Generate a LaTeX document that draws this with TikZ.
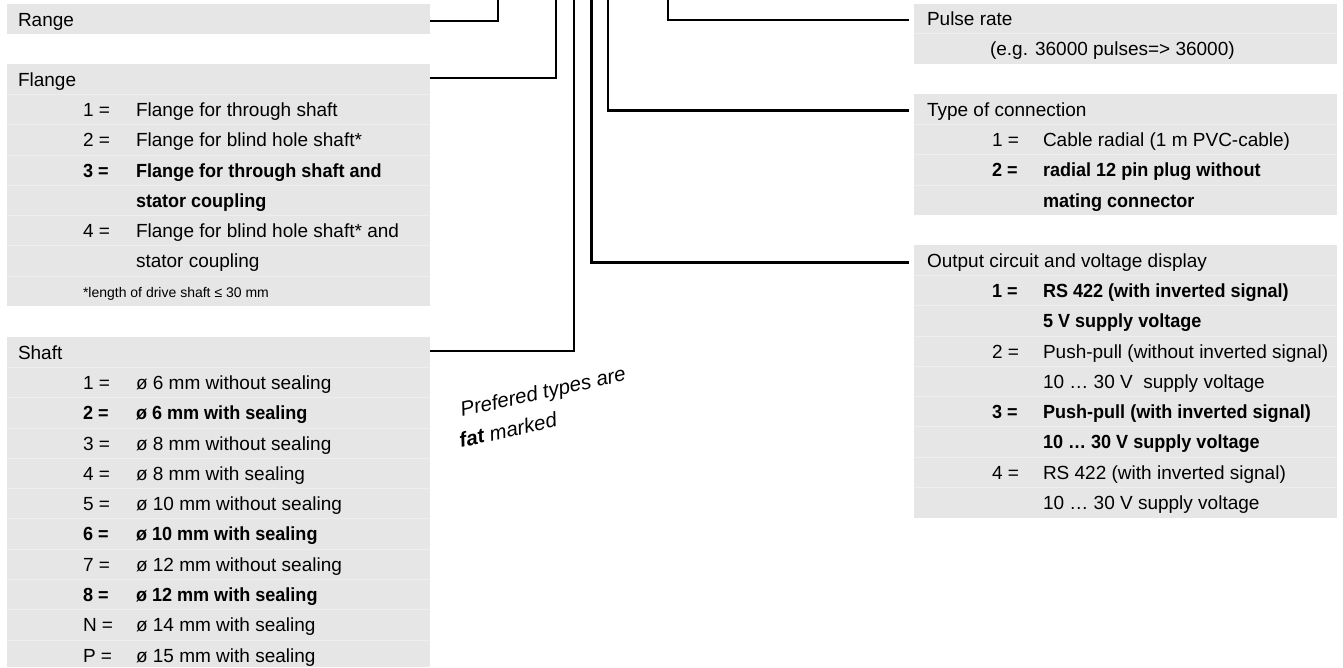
\documentclass[tikz,border=0pt]{standalone}
\usepackage{fontspec}
\setmainfont{Liberation Sans}[BoldFeatures={FakeStretch=0.95}]
\definecolor{boxgray}{HTML}{E6E6E6}
\definecolor{sepgray}{HTML}{EEEEEE}
\begin{document}
\begin{tikzpicture}[x=1pt,y=-1pt,
  conn/.style={line width=2.4pt},
  box/.style={fill=boxgray, draw=none, inner sep=0pt, outer sep=0pt, anchor=north west, minimum width=423pt},
  txt/.style={anchor=base west, inner sep=0pt, outer sep=0pt, font=\fontsize{19}{22}\selectfont},
  btxt/.style={txt, font=\fontsize{19}{22}\selectfont\bfseries},
  note/.style={txt, font=\fontsize{14}{16}\selectfont},
  sep/.style={sepgray, line width=0.8pt},
  slant/.style={anchor=base west, inner sep=0pt, rotate=12.6, font=\fontsize{20.5}{24}\selectfont\itshape}]
\useasboundingbox (0,0) rectangle (1343,667);

% boxes
\node[box, minimum height=30.3pt] (range) at (7,4) {};
\node[box, minimum height=242.4pt] (flange) at (7,64) {};
\node[box, minimum height=330pt] (shaft) at (7,337) {};
\node[box, minimum height=60.6pt] (pulse) at (914,3.5) {};
\node[box, minimum height=121.2pt] (tconn) at (914,94) {};
\node[box, minimum height=272.7pt] (outc) at (914,245) {};

% separators
\foreach \k in {1,...,7} \draw[sep] (7,{64+30.3*\k}) -- (430,{64+30.3*\k});
\foreach \k in {1,...,10} \draw[sep] (7,{337+30.3*\k}) -- (430,{337+30.3*\k});
\draw[sep] (914,33.8) -- (1337,33.8);
\foreach \k in {1,...,3} \draw[sep] (914,{94+30.3*\k}) -- (1337,{94+30.3*\k});
\foreach \k in {1,...,8} \draw[sep] (914,{245+30.3*\k}) -- (1337,{245+30.3*\k});

% Range
\node[txt] (rangeh) at (18,26.2) {Range};

% Flange
\node[txt] (flh) at (18,86.15) {Flange};
\node[txt] (f1n) at (83,116.45) {1 =};
\node[txt] (f1t) at (136,116.45) {Flange for through shaft};
\node[txt] (f2n) at (83,146.75) {2 =};
\node[txt] (f2t) at (136,146.75) {Flange for blind hole shaft*};
\node[btxt] (f3n) at (83,177.05) {3 =};
\node[btxt] (f3t) at (136,177.05) {Flange for through shaft and};
\node[btxt] (f3u) at (136,207.35) {stator coupling};
\node[txt] (f4n) at (83,237.65) {4 =};
\node[txt] (f4t) at (136,237.65) {Flange for blind hole shaft* and};
\node[txt] (f4u) at (136,267.95) {stator coupling};
\node[note] (fnote) at (83,297.5) {*length of drive shaft ≤ 30 mm};

% Shaft
\node[txt] (shh) at (18,359.15) {Shaft};
\node[txt] (s1n) at (83,389.45) {1 =};
\node[txt] (s1t) at (136,389.45) {ø 6 mm without sealing};
\node[btxt] (s2n) at (83,419.75) {2 =};
\node[btxt] (s2t) at (136,419.75) {ø 6 mm with sealing};
\node[txt] (s3n) at (83,450.05) {3 =};
\node[txt] (s3t) at (136,450.05) {ø 8 mm without sealing};
\node[txt] (s4n) at (83,480.35) {4 =};
\node[txt] (s4t) at (136,480.35) {ø 8 mm with sealing};
\node[txt] (s5n) at (83,510.65) {5 =};
\node[txt] (s5t) at (136,510.65) {ø 10 mm without sealing};
\node[btxt] (s6n) at (83,540.95) {6 =};
\node[btxt] (s6t) at (136,540.95) {ø 10 mm with sealing};
\node[txt] (s7n) at (83,571.25) {7 =};
\node[txt] (s7t) at (136,571.25) {ø 12 mm without sealing};
\node[btxt] (s8n) at (83,601.55) {8 =};
\node[btxt] (s8t) at (136,601.55) {ø 12 mm with sealing};
\node[txt] (sNn) at (83,631.85) {N =};
\node[txt] (sNt) at (136,631.85) {ø 14 mm with sealing};
\node[txt] (sPn) at (83,662.15) {P =};
\node[txt] (sPt) at (136,662.15) {ø 15 mm with sealing};

% Pulse rate
\node[txt] (ph) at (927,25.65) {Pulse rate};
\node[txt] (pt) at (990,55.95) {(e.g. 36000 pulses=> 36000)};

% Type of connection
\node[txt] (th) at (927,116.15) {Type of connection};
\node[txt] (t1n) at (992,146.45) {1 =};
\node[txt] (t1t) at (1043,146.45) {Cable radial (1 m PVC-cable)};
\node[btxt] (t2n) at (992,176.75) {2 =};
\node[btxt] (t2t) at (1043,176.75) {radial 12 pin plug without};
\node[btxt] (t2u) at (1043,207.05) {mating connector};

% Output circuit
\node[txt] (oh) at (927,267.15) {Output circuit and voltage display};
\node[btxt] (o1n) at (992,297.45) {1 =};
\node[btxt] (o1t) at (1043,297.45) {RS 422 (with inverted signal)};
\node[btxt] (o1u) at (1043,327.75) {5 V supply voltage};
\node[txt] (o2n) at (992,358.05) {2 =};
\node[txt] (o2t) at (1043,358.05) {Push-pull (without inverted signal)};
\node[txt] (o2u) at (1043,388.35) {10 … 30 V\ \ supply voltage};
\node[btxt] (o3n) at (992,418.65) {3 =};
\node[btxt] (o3t) at (1043,418.65) {Push-pull (with inverted signal)};
\node[btxt] (o3u) at (1043,448.95) {10 … 30 V supply voltage};
\node[txt] (o4n) at (992,479.25) {4 =};
\node[txt] (o4t) at (1043,479.25) {RS 422 (with inverted signal)};
\node[txt] (o4u) at (1043,509.55) {10 … 30 V supply voltage};

% rotated remark
\node[slant] (pref) at (462,417) {Prefered types are};
\node[slant] (fatm) at (461,448) {\textbf{fat} marked};

% connectors
\coordinate (top1) at (498,-3);
\coordinate (top2) at (556,-3);
\coordinate (top3) at (574,-3);
\coordinate (top4) at (591.5,-3);
\coordinate (top5) at (608,-3);
\coordinate (top6) at (668,-3);
\draw[conn] ([yshift=-17pt]range.north east) -| (top1);
\draw[conn] ([yshift=-14pt]flange.north east) -| (top2);
\draw[conn] ([yshift=-14pt]shaft.north east) -| (top3);
\draw[conn] (top4) |- ([xshift=-5pt,yshift=-17.5pt]outc.north west);
\draw[conn] (top5) |- ([xshift=-5pt,yshift=-16.5pt]tconn.north west);
\draw[conn] (top6) |- ([xshift=-5pt,yshift=-16.5pt]pulse.north west);
\end{tikzpicture}
\end{document}
